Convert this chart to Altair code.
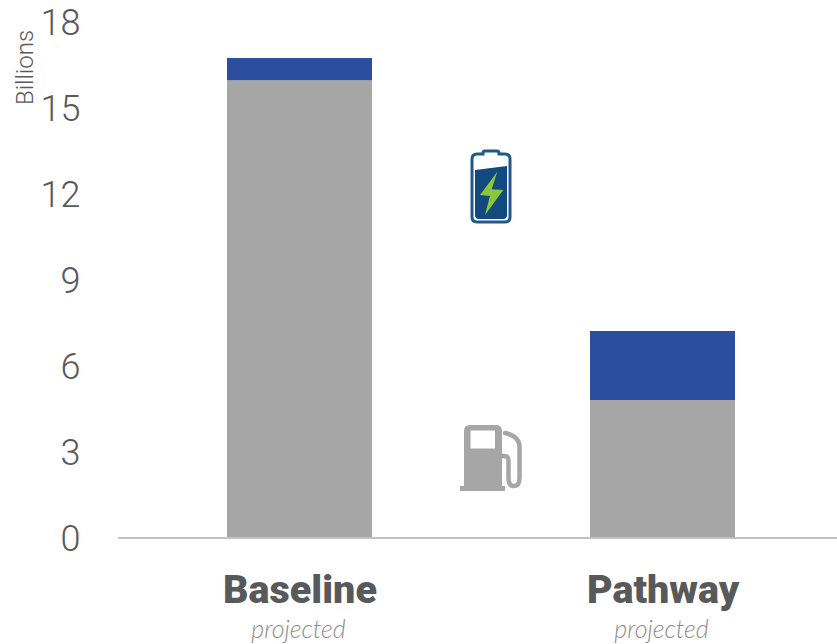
import altair as alt
import pandas as pd

# Stacked annual totals, in billions
scenarios = ["Baseline", "Pathway"]
fuel_values = [15.97, 4.81]
electric_values = [0.77, 2.41]
subtitles = ["projected", "projected"]
y_ticks = [0, 3, 6, 9, 12, 15, 18]

GREY = "#a6a6a6"
BLUE = "#2b4f9e"
TEXT = "#58595b"

rows = []
for s, f, e in zip(scenarios, fuel_values, electric_values):
    rows.append({"scenario": s, "kind": "fuel", "value": f, "rank": 0})
    rows.append({"scenario": s, "kind": "electric", "value": e, "rank": 1})
bars_df = pd.DataFrame(rows)
labels_df = pd.DataFrame({"scenario": scenarios, "note": subtitles})

x_scale = alt.Scale(type="point", domain=scenarios, range=[181.5, 544.5], padding=0)
y_scale = alt.Scale(domain=[0, 18], nice=False)

bars = alt.Chart(bars_df).mark_bar(size=145).encode(
    x=alt.X(
        "scenario:N",
        scale=x_scale,
        sort=scenarios,
        axis=alt.Axis(
            title=None,
            labelAngle=0,
            ticks=False,
            domain=False,
            labelFont="Roboto",
            labelFontWeight=900,
            labelFontSize=39.5,
            labelColor=TEXT,
            labelPadding=52,
            labelBaseline="middle",
        ),
    ),
    y=alt.Y(
        "value:Q",
        stack="zero",
        scale=y_scale,
        axis=alt.Axis(
            values=y_ticks,
            title="Billions",
            titleFont="Roboto",
            titleFontWeight=300,
            titleFontSize=24,
            titleColor=TEXT,
            titleAngle=-90,
            titleAlign="center",
            titleBaseline="middle",
            titleX=-93,
            titleY=45,
            grid=False,
            ticks=False,
            domain=False,
            labelFont="Roboto",
            labelFontWeight=300,
            labelFontSize=36,
            labelColor=TEXT,
            labelPadding=38,
            labelOffset=1.5,
        ),
    ),
    color=alt.Color(
        "kind:N",
        scale=alt.Scale(domain=["fuel", "electric"], range=[GREY, BLUE]),
        legend=None,
    ),
    order=alt.Order("rank:Q"),
)

# Zero baseline running the full plot width
baseline = alt.Chart(pd.DataFrame({"v": [0]})).mark_rule(color="#c2c2c2", strokeWidth=2).encode(
    x=alt.value(0),
    x2=alt.value(719),
    y=alt.Y("v:Q", scale=y_scale),
)

notes = alt.Chart(labels_df).mark_text(
    font="Lato", fontStyle="italic", fontWeight=300, fontSize=25, color="#8c8c8c", dx=-1
).encode(
    x=alt.X("scenario:N", scale=x_scale, sort=scenarios),
    y=alt.value(608),
    text="note:N",
)

# Icon glyphs, drawn in pixel units around each icon's centre (size=4 gives a 1:1 path scale)
BATTERY_CASE = (
    "M-8 -33 L-8 -34 Q-8 -36 -6 -36 L6 -36 Q8 -36 8 -34 L8 -33 L14 -33 Q19 -33 19 -28 "
    "L19 30 Q19 35 14 35 L-14 35 Q-19 35 -19 30 L-19 -28 Q-19 -33 -14 -33 Z"
)
BATTERY_CHARGE = "M-16 -17 L16 -21 L16 28 Q16 32 12 32 L-12 32 Q-16 32 -16 28 Z"
BATTERY_BOLT = "M6.3 -15.3 L-11 8 L-1 9 L-6 28 L12.3 3 L0.7 2.3 Z"
PUMP_BODY = (
    "M-30 33 L-30 28 L-26 28 L-26 -27 Q-26 -33 -20 -33 L6 -33 Q12 -33 12 -27 L12 28 L15 28 L15 33 Z "
    "M-19.5 -27.5 L-19.5 -9.5 L5 -9.5 L5 -27.5 Z"
)
PUMP_HOSE = "M11 -2 L14 -2 Q18.5 -2 18.5 3 L18.5 20 Q18.5 28 24 28 Q29.5 28 29.5 20 L29.5 -12 Q29 -22 15 -25"

def icon(path, cx, cy, color, filled=True, stroke_width=0):
    base = alt.Chart(pd.DataFrame({"v": [0]}))
    if filled:
        mark = base.mark_point(shape=path, size=4, filled=True, fill=color, strokeWidth=0, opacity=1)
    else:
        mark = base.mark_point(
            shape=path, size=4, filled=False, stroke=color, strokeWidth=stroke_width,
            opacity=1, strokeCap="round",
        )
    return mark.encode(x=alt.value(cx), y=alt.value(cy))

BX, BY = 373, 165
PX, PY = 372, 436

chart = alt.layer(
    bars,
    baseline,
    notes,
    icon(BATTERY_CHARGE, BX, BY, "#124a80"),
    icon(BATTERY_CASE, BX, BY, "#1d5a86", filled=False, stroke_width=3),
    icon(BATTERY_BOLT, BX, BY, "#8cc63f"),
    icon(PUMP_BODY, PX, PY, GREY),
    icon(PUMP_HOSE, PX, PY, GREY, filled=False, stroke_width=4.5),
).properties(
    width=719,
    height=516,
    autosize=alt.AutoSizeParams(type="none"),
    padding={"left": 118, "top": 22, "right": 0, "bottom": 106},
    background="#ffffff",
).configure_view(stroke=None)

chart.save("out.html", embed_options={"renderer": "svg", "actions": False})
